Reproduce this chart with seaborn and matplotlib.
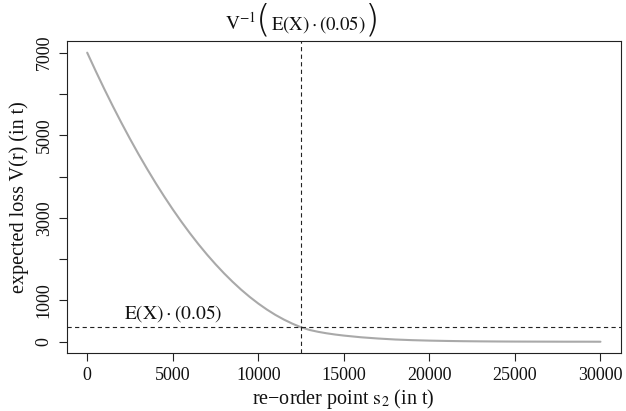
import matplotlib
matplotlib.use("Agg")
import matplotlib.pyplot as plt
from matplotlib.transforms import IdentityTransform
import seaborn as sns
import pandas as pd

# re-order point s2 (t) and expected loss V(r) (t)
reorder_point = [0, 500, 1000, 1500, 2000, 2500, 3000, 3500, 4000, 4500,
                 5000, 5500, 6000, 6500, 7000, 7500, 8000, 8500, 9000, 9500,
                 10000, 10500, 11000, 11500, 12000, 12500, 13000, 13500,
                 14000, 14500, 15000, 16000, 17000, 18000, 19000, 20000,
                 21000, 22000, 23000, 24000, 25000, 26000, 27000, 28000,
                 29000, 30000]
expected_loss = [7000, 6553, 6120, 5703, 5301, 4914, 4542, 4186, 3844, 3518,
                 3206, 2910, 2629, 2363, 2112, 1877, 1656, 1451, 1260, 1085,
                 925, 780, 650, 536, 436, 350, 285, 240,
                 204, 174, 149, 108, 78, 54, 38, 27,
                 19, 13, 9, 6, 4, 3, 2, 1,
                 1, 0]

mean_loss = 7000          # E(X)
level = 0.05              # tolerated fraction of E(X)
threshold = mean_loss * level
threshold_point = 12500   # V^-1(E(X) * 0.05)

x_ticks = [0, 5000, 10000, 15000, 20000, 25000, 30000]
y_ticks = [0, 1000, 2000, 3000, 4000, 5000, 6000, 7000]
y_tick_labels = ["0", "1000", "", "3000", "", "5000", "", "7000"]

df = pd.DataFrame({"s2": reorder_point, "V": expected_loss})

sns.set_theme(style="white")
plt.rcParams["font.family"] = ["Liberation Serif", "DejaVu Serif"]
plt.rcParams["mathtext.fontset"] = "stix"

W, H, DPI = 6.26, 4.11, 100
fig = plt.figure(figsize=(W, H), dpi=DPI)
ax = fig.add_axes([0.1065, 0.1404, 0.8855, 0.7596])

sns.lineplot(data=df, x="s2", y="V", ax=ax, color="#a9a9a9", linewidth=1.5)

dash = (0, (3.8, 3.0))
ax.axhline(threshold, color="#222222", linewidth=0.8, linestyle=dash)
ax.axvline(threshold_point, color="#222222", linewidth=0.8, linestyle=dash)

ax.set_xlim(-1200, 31200)
ax.set_ylim(-280, 7280)

ink = "#111111"
ax.set_xticks(x_ticks)
ax.set_xticklabels([str(v) for v in x_ticks], fontsize=13)
ax.set_yticks(y_ticks)
ax.set_yticklabels(y_tick_labels, fontsize=13, rotation=90, va="center")

ax.tick_params(axis="both", which="major", direction="out", length=6,
               width=0.8, color="#222222", labelcolor=ink, pad=4,
               bottom=True, left=True)

for sp in ax.spines.values():
    sp.set_color("#222222")
    sp.set_linewidth(0.8)

ax.set_xlabel("re\u2212order point $\\mathrm{s_2}$ (in t)", fontsize=14.5,
              color=ink, labelpad=2)
ax.set_ylabel("expected loss V(r) (in t)", fontsize=14.5, color=ink,
              labelpad=5)

ax.text(5000, threshold + 70, "$\\mathrm{E(X)\\cdot(0.05)}$",
        ha="center", va="bottom", fontsize=14, color=ink)

# Title over the vertical line: V^-1( E(X)*(0.05) ) with tall, thin brackets
renderer = fig.canvas.get_renderer()
x_line, _ = ax.transData.transform((threshold_point, 0))
base_y = H * DPI - 30
paren_mid = H * DPI - 20.5
paren_style = dict(transform=IdentityTransform(), va="center", fontsize=27,
                   color=ink, family="DejaVu Sans", weight="ultralight")
inner = fig.text(x_line + 17, base_y, "$\\mathrm{E(X)\\cdot(0.05)}$",
                 transform=IdentityTransform(), ha="center", va="baseline",
                 fontsize=13.5, color=ink)
bb = inner.get_window_extent(renderer)
lpar = fig.text(bb.x0, paren_mid, "(", ha="right", **paren_style)
fig.text(bb.x1, paren_mid, ")", ha="left", **paren_style)
lb = lpar.get_window_extent(renderer)
fig.text(lb.x0, base_y, "$\\mathrm{V^{-1}}$", transform=IdentityTransform(),
         ha="right", va="baseline", fontsize=14, color=ink)

fig.savefig("out.png", dpi=DPI)
